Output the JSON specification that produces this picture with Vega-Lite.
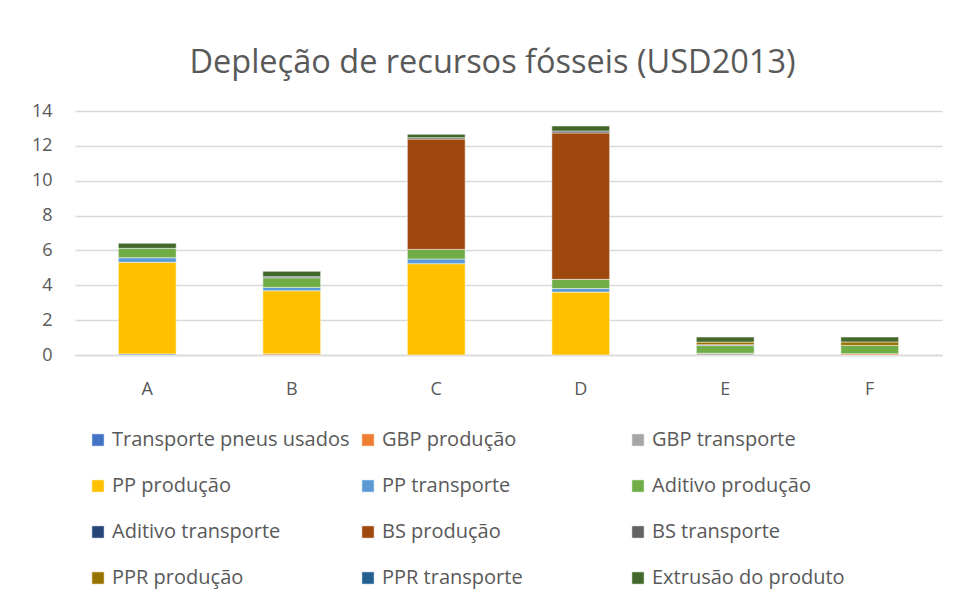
{
  "$schema": "https://vega.github.io/schema/vega-lite/v6.json",
  "width": 867,
  "height": 244,
  "autosize": {"type": "none"},
  "padding": {"left": 75, "top": 111, "right": 17, "bottom": 248},
  "background": "white",
  "title": {
    "text": "Depleção de recursos fósseis (USD2013)",
    "font": "Open Sans",
    "fontSize": 32.5,
    "fontWeight": "normal",
    "color": "#595959",
    "anchor": "middle",
    "dx": -16,
    "offset": 23
  },
  "data": {
    "values": [
      {"cat": "A", "s": "Transporte pneus usados", "ord": 1, "v": 0.06},
      {"cat": "A", "s": "PP produção", "ord": 4, "v": 5.26},
      {"cat": "A", "s": "PP transporte", "ord": 5, "v": 0.26},
      {"cat": "A", "s": "Aditivo produção", "ord": 6, "v": 0.54},
      {"cat": "A", "s": "Extrusão do produto", "ord": 12, "v": 0.29},
      {"cat": "B", "s": "GBP produção", "ord": 2, "v": 0.07},
      {"cat": "B", "s": "PP produção", "ord": 4, "v": 3.62},
      {"cat": "B", "s": "PP transporte", "ord": 5, "v": 0.19},
      {"cat": "B", "s": "Aditivo produção", "ord": 6, "v": 0.55},
      {"cat": "B", "s": "Aditivo transporte", "ord": 7, "v": 0.06},
      {"cat": "B", "s": "Extrusão do produto", "ord": 12, "v": 0.31},
      {"cat": "C", "s": "PP produção", "ord": 4, "v": 5.24},
      {"cat": "C", "s": "PP transporte", "ord": 5, "v": 0.27},
      {"cat": "C", "s": "Aditivo produção", "ord": 6, "v": 0.55},
      {"cat": "C", "s": "BS produção", "ord": 8, "v": 6.33},
      {"cat": "C", "s": "BS transporte", "ord": 9, "v": 0.08},
      {"cat": "C", "s": "Extrusão do produto", "ord": 12, "v": 0.19},
      {"cat": "D", "s": "PP produção", "ord": 4, "v": 3.61},
      {"cat": "D", "s": "PP transporte", "ord": 5, "v": 0.21},
      {"cat": "D", "s": "Aditivo produção", "ord": 6, "v": 0.52},
      {"cat": "D", "s": "BS produção", "ord": 8, "v": 8.4},
      {"cat": "D", "s": "BS transporte", "ord": 9, "v": 0.11},
      {"cat": "D", "s": "Extrusão do produto", "ord": 12, "v": 0.29},
      {"cat": "E", "s": "GBP transporte", "ord": 3, "v": 0.1},
      {"cat": "E", "s": "Aditivo produção", "ord": 6, "v": 0.44},
      {"cat": "E", "s": "Aditivo transporte", "ord": 7, "v": 0.05},
      {"cat": "E", "s": "PPR produção", "ord": 10, "v": 0.15},
      {"cat": "E", "s": "Extrusão do produto", "ord": 12, "v": 0.29},
      {"cat": "F", "s": "GBP produção", "ord": 2, "v": 0.07},
      {"cat": "F", "s": "Aditivo produção", "ord": 6, "v": 0.48},
      {"cat": "F", "s": "PPR produção", "ord": 10, "v": 0.2},
      {"cat": "F", "s": "Extrusão do produto", "ord": 12, "v": 0.28}
    ]
  },
  "mark": {"type": "bar"},
  "encoding": {
    "x": {
      "field": "cat",
      "type": "nominal",
      "scale": {"paddingInner": 0.6, "paddingOuter": 0.3},
      "axis": {
        "title": null,
        "labelAngle": 0,
        "ticks": false,
        "domainColor": "#D9D9D9",
        "domainWidth": 1.5,
        "labelFont": "Open Sans",
        "labelFontSize": 18,
        "labelColor": "#595959",
        "labelPadding": 25
      }
    },
    "y": {
      "field": "v",
      "type": "quantitative",
      "stack": "zero",
      "scale": {"domain": [0, 14]},
      "axis": {
        "title": null,
        "values": [0, 2, 4, 6, 8, 10, 12, 14],
        "domain": false,
        "ticks": false,
        "gridColor": "#D9D9D9",
        "gridWidth": 1.5,
        "labelFont": "Open Sans",
        "labelFontSize": 18,
        "labelColor": "#595959",
        "labelPadding": 23
      }
    },
    "order": {"field": "ord", "type": "quantitative", "sort": "ascending"},
    "color": {
      "field": "s",
      "type": "nominal",
      "scale": {
        "domain": ["Transporte pneus usados", "GBP produção", "GBP transporte", "PP produção", "PP transporte", "Aditivo produção", "Aditivo transporte", "BS produção", "BS transporte", "PPR produção", "PPR transporte", "Extrusão do produto"],
        "range": ["#4472C4", "#ED7D31", "#A5A5A5", "#FFC000", "#5B9BD5", "#70AD47", "#264478", "#9E480E", "#636363", "#997300", "#255E91", "#43682B"]
      },
      "legend": {
        "title": null,
        "orient": "none",
        "legendX": 13,
        "legendY": 319,
        "direction": "horizontal",
        "columns": 3,
        "gridAlign": "all",
        "columnPadding": 8,
        "rowPadding": 26,
        "padding": 0,
        "symbolType": "square",
        "symbolSize": 150,
        "symbolStrokeWidth": 0,
        "labelOffset": 4,
        "labelFont": "Open Sans",
        "labelFontSize": 20,
        "labelColor": "#595959",
        "labelLimit": 400
      }
    }
  },
  "config": {
    "view": {"stroke": null},
    "bar": {"stroke": "white", "strokeWidth": 0.5}
  }
}
